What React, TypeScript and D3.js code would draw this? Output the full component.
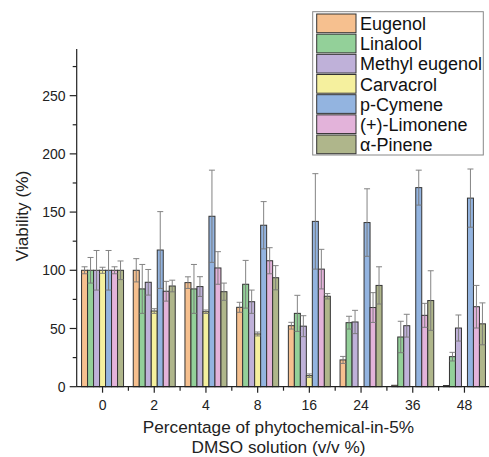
import React from "react";
import * as d3 from "d3";

const categories = ["0", "2", "4", "8", "16", "24", "36", "48"];
const seriesNames = ["Eugenol", "Linalool", "Methyl eugenol", "Carvacrol", "p-Cymene", "(+)-Limonene", "α-Pinene"];
const colors = ["#F6C08F", "#93D099", "#BFB1D9", "#F5F09E", "#93B4E0", "#E3B3DA", "#AFB68B"];

// values per series, across categories
const eugenol = [100, 100, 89.4, 68.2, 52.4, 23, 1.2, 1.0];
const linalool = [100, 84, 84, 88, 63, 55, 42.7, 25.8];
const methylEugenol = [100, 89.7, 86, 73, 52, 55.6, 52.4, 50.4];
const carvacrol = [100, 65, 64.4, 45.3, 9.5, 0, 0, 0];
const pCymene = [100, 117.4, 146.4, 138.7, 142, 141, 171, 162];
const limonene = [100, 82, 102, 108.2, 101, 68, 61.3, 68.7];
const aPinene = [100, 86.5, 81.6, 93.6, 77.7, 87, 74, 54];

// standard deviations
const eugenolSd = [3, 10, 5, 4.3, 2.9, 3, 0, 0];
const linaloolSd = [11, 21, 21, 20.5, 15.5, 5.5, 13.5, 3.7];
const methylEugenolSd = [17, 11, 8.5, 10, 9, 10, 9.8, 11.2];
const carvacrolSd = [2.6, 2, 1.5, 1.7, 1.5, 0, 0, 0];
const pCymeneSd = [17, 33, 39.6, 20.3, 41, 29, 15, 25];
const limoneneSd = [3, 8.5, 14, 11.2, 17, 12.8, 10.3, 18.3];
const aPineneSd = [8, 5, 7.4, 10.4, 2.3, 16, 25.6, 18];

const values = [eugenol, linalool, methylEugenol, carvacrol, pCymene, limonene, aPinene];
const sds = [eugenolSd, linaloolSd, methylEugenolSd, carvacrolSd, pCymeneSd, limoneneSd, aPineneSd];

const yMajorTicks = [0, 50, 100, 150, 200, 250];
const yMinorTicks = [25, 75, 125, 175, 225, 275];

const W = 489;
const H = 457;
const x0 = 76.7;
const xEnd = 490.3;
const yBottom = 386.7;
const yTop = 49.1;

export default function App() {
  const x = d3.scaleBand<string>().domain(categories).range([x0, xEnd]).paddingInner(0).paddingOuter(0);
  const xi = d3.scaleBand<string>().domain(seriesNames).range([0, x.bandwidth()]).paddingInner(0).paddingOuter(0.81);
  const y = d3.scaleLinear().domain([0, 290]).range([yBottom, yTop]);
  const font = "'Liberation Sans', Arial, sans-serif";
  const bw = xi.bandwidth();
  const boundaries = categories.map((c) => (x(c) as number) + x.bandwidth());

  return (
    <svg width={W} height={H} style={{ position: "absolute", left: 0, top: 0 }} fontFamily={font}>
      <rect width={W} height={H} fill="#fff" />
      {/* bars */}
      {seriesNames.map((s, si) =>
        categories.map((c, ci) => {
          const v = values[si][ci];
          const bx = (x(c) as number) + (xi(s) as number);
          return (
            <rect key={`b${si}-${ci}`} x={bx} y={y(v)} width={bw} height={yBottom - y(v)}
              fill={colors[si]} stroke="#333" strokeWidth={1} />
          );
        })
      )}
      {/* error bars */}
      {seriesNames.map((s, si) =>
        categories.map((c, ci) => {
          const v = values[si][ci];
          const sd = sds[si][ci];
          if (sd <= 0) return null;
          const cx = (x(c) as number) + (xi(s) as number) + bw / 2;
          const yt = y(v + sd);
          const yb = y(Math.max(0, v - sd));
          return (
            <g key={`e${si}-${ci}`} stroke="#777" strokeWidth={1} opacity={0.9}>
              <line x1={cx} x2={cx} y1={yt} y2={yb} />
              <line x1={cx - 3} x2={cx + 3} y1={yt} y2={yt} />
              <line x1={cx - 3} x2={cx + 3} y1={yb} y2={yb} />
            </g>
          );
        })
      )}
      {/* y axis */}
      <line x1={x0} x2={x0} y1={yTop} y2={yBottom} stroke="#222" strokeWidth={1.2} />
      {yMajorTicks.map((t) => (
        <g key={`ym${t}`}>
          <line x1={x0 - 7} x2={x0} y1={y(t)} y2={y(t)} stroke="#222" strokeWidth={1.2} />
          <text x={65.5} y={y(t)} dy="0.36em" textAnchor="end" fontSize={14} fill="#222">{t}</text>
        </g>
      ))}
      {yMinorTicks.map((t) => (
        <line key={`yn${t}`} x1={x0 - 4} x2={x0} y1={y(t)} y2={y(t)} stroke="#222" strokeWidth={1.2} />
      ))}
      {/* x axis */}
      <line x1={x0} x2={xEnd} y1={yBottom} y2={yBottom} stroke="#222" strokeWidth={1.2} />
      {categories.map((c) => {
        const cx = (x(c) as number) + x.bandwidth() / 2;
        return (
          <g key={`xm${c}`}>
            <line x1={cx} x2={cx} y1={yBottom} y2={yBottom + 6} stroke="#222" strokeWidth={1.2} />
            <text x={cx} y={404.5} dy="0.36em" textAnchor="middle" fontSize={14} fill="#222">{c}</text>
          </g>
        );
      })}
      {boundaries.map((b, i) => (
        <line key={`xb${i}`} x1={b} x2={b} y1={yBottom} y2={yBottom + 4} stroke="#222" strokeWidth={1.2} />
      ))}
      {/* axis titles */}
      <text x={278.5} y={427} dy="0.36em" textAnchor="middle" fontSize={17.2} fill="#222">Percentage of phytochemical-in-5%</text>
      <text x={278.5} y={446.5} dy="0.36em" textAnchor="middle" fontSize={17.2} fill="#222">DMSO solution (v/v %)</text>
      <text transform={`translate(22,216) rotate(-90)`} dy="0.36em" textAnchor="middle" fontSize={17.2} fill="#222">Viability (%)</text>
      {/* legend */}
      <rect x={312.7} y={11.7} width={170.6} height={143.3} fill="#fff" stroke="#888" strokeWidth={1} />
      {seriesNames.map((s, i) => {
        const ry = 14 + i * 20.17;
        return (
          <g key={`l${i}`}>
            <rect x={316.7} y={ry} width={39.3} height={18.7} fill={colors[i]} stroke="#333" strokeWidth={1} />
            <text x={360} y={ry + 9.6} dy="0.36em" fontSize={18} fill="#111">{s}</text>
          </g>
        );
      })}
    </svg>
  );
}
